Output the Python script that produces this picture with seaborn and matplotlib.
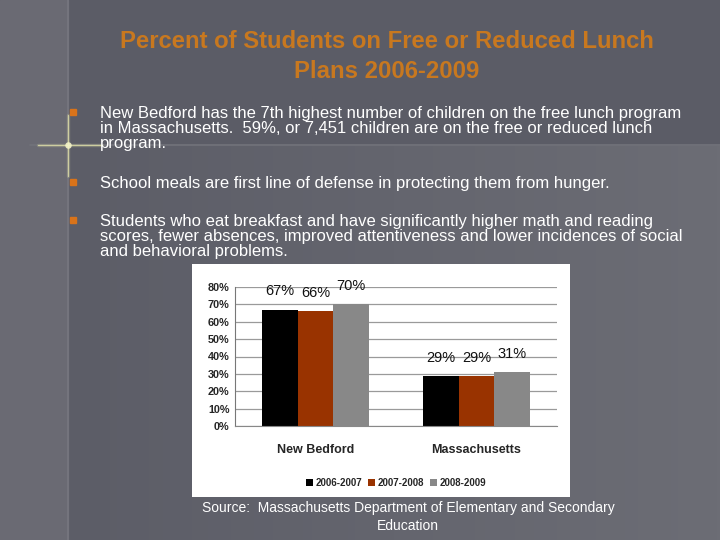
import numpy as np
import pandas as pd
import matplotlib
matplotlib.use('Agg')
import matplotlib.pyplot as plt
import seaborn as sns
from matplotlib.patches import Rectangle
from matplotlib.colors import LinearSegmentedColormap

# chart values
regions = ["New Bedford", "Massachusetts"]
years = ["2006-2007", "2007-2008", "2008-2009"]
new_bedford = [67, 66, 70]
massachusetts = [29, 29, 31]
y_ticks = [0, 10, 20, 30, 40, 50, 60, 70, 80]

title_lines = "Percent of Students on Free or Reduced Lunch\nPlans 2006-2009"
bullets = [
    "New Bedford has the 7th highest number of children on the free lunch program\n"
    "in Massachusetts.  59%, or 7,451 children are on the free or reduced lunch\n"
    "program.",
    "School meals are first line of defense in protecting them from hunger.",
    "Students who eat breakfast and have significantly higher math and reading\n"
    "scores, fewer absences, improved attentiveness and lower incidences of social\n"
    "and behavioral problems.",
]
source = "Source:  Massachusetts Department of Elementary and Secondary\nEducation"

df = pd.DataFrame({
    "region": [r for r in regions for _ in years],
    "year": years * len(regions),
    "pct": new_bedford + massachusetts,
})

sns.set_style("white")
plt.rcParams['font.family'] = ['Liberation Sans', 'DejaVu Sans']

W, H = 720, 540
fig = plt.figure(figsize=(7.2, 5.4), dpi=100)
fig.patch.set_facecolor('#5b5c66')

# slide background
bg = fig.add_axes([0, 0, 1, 1], zorder=-10)
bg.set_xlim(0, W)
bg.set_ylim(H, 0)
bg.axis('off')
grad = np.linspace(0, 1, 200)[None, :]
cmap = LinearSegmentedColormap.from_list('bg', ['#5c5d67', '#6c6d75'])
bg.imshow(grad, extent=[68, W, H, 146], cmap=cmap, aspect='auto', zorder=0)
bg.add_patch(Rectangle((0, 0), 68, H, color='#6a6a73', zorder=1))
bg.plot([68, 68], [0, H], color='#777780', lw=1.2, zorder=2)
bg.plot([30, W], [145, 145], color='#72737b', lw=1.2, zorder=2)
# sparkle
for a, lw in [(0.2, 2.5), (0.8, 0.9)]:
    bg.plot([38, 102], [145, 145], color='#e0e0a8', lw=lw, alpha=a, zorder=3)
    bg.plot([68, 68], [115, 176], color='#e0e0a8', lw=lw, alpha=a, zorder=3)
bg.scatter([68], [145], s=22, color='#f4f4c8', alpha=0.9, zorder=4, linewidths=0)

# chart box
bg.add_patch(Rectangle((192, 264), 378, 233, facecolor='white', edgecolor='none', zorder=5))

# title
fig.text(0.537, 1 - 56.5 / H, title_lines, ha='center', va='center', color='#c8781f',
         fontsize=17.2, fontweight='bold', linespacing=1.42)

# bullets
bullet_y = [112, 182, 220]
for y, txt in zip(bullet_y, bullets):
    bg.add_patch(Rectangle((70, y - 3), 6, 6, color='#d9731a', zorder=5))
    fig.text(100 / W, 1 - (y - 6) / H, txt, ha='left', va='top', color='white',
             fontsize=12, linespacing=1.0)

# source
fig.text(408 / W, 1 - 517 / H, source, ha='center', va='center', color='white',
         fontsize=10, linespacing=1.3)

ax = fig.add_axes([235 / W, 1 - 426 / H, 322 / W, 139 / H], zorder=5)
ax.set_facecolor('white')
palette = ['#000000', '#993300', '#888888']
sns.barplot(data=df, x="region", y="pct", hue="year", palette=palette,
            width=0.665, saturation=1, linewidth=0, ax=ax, legend=True)
ax.set_ylim(0, 80)
ax.set_xlim(-0.5, 1.5)
ax.set_yticks(y_ticks)
ax.set_yticklabels([f"{v}%" for v in y_ticks], fontsize=7.8, fontweight='bold')
ax.yaxis.grid(True, color='#9a9a9a', lw=0.9)
ax.set_axisbelow(True)
for s in ['top', 'right']:
    ax.spines[s].set_visible(False)
ax.spines['left'].set_color('#777777')
ax.spines['bottom'].set_color('#888888')
ax.tick_params(axis='y', length=0, pad=4)
ax.set_xticks([0.5, 1.5], minor=True)
ax.tick_params(axis='x', which='minor', length=3, color='#777777')
ax.tick_params(axis='x', which='major', length=0, pad=13)
ax.set_xticklabels(regions, fontsize=9, fontweight='bold')
ax.set_xlabel("")
ax.set_ylabel("")

for cont in ax.containers:
    ax.bar_label(cont, labels=[f"{int(v)}%" for v in cont.datavalues],
                 padding=0, fontsize=10.5, color='#111111')
# labels sit well above the bars in the original
for t in ax.texts:
    x, y = t.get_position()
    t.set_position((x, y + 8))

leg = ax.legend(loc='upper center', bbox_to_anchor=(0.5, -0.31), ncol=3,
                frameon=False, fontsize=7, handlelength=0.7, handleheight=0.7,
                handletextpad=0.3, columnspacing=0.6)
for txt in leg.get_texts():
    txt.set_fontweight('bold')

plt.savefig('out.png', dpi=100, facecolor=fig.get_facecolor())
